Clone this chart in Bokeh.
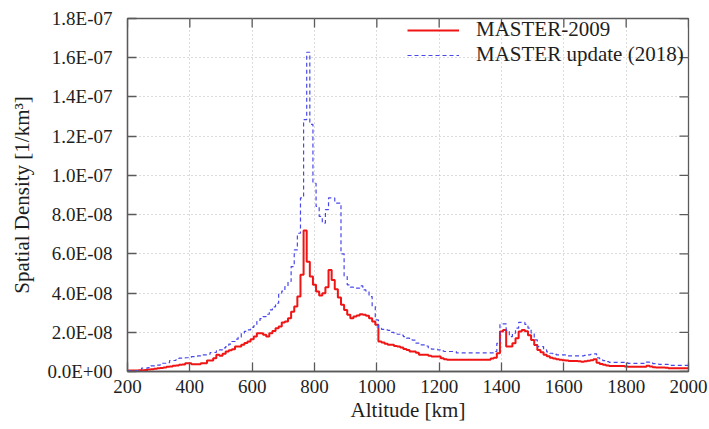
import numpy as np
from bokeh.plotting import figure
from bokeh.models import (FixedTicker, CustomJSTickFormatter,
                          Range1d, Legend, LegendItem)
from bokeh.embed import file_html
from bokeh.resources import INLINE

# Altitude bin centres [km], 10 km bins
altitude_km = np.arange(200, 2001, 10)

# Spatial density, in units of 1E-08 per km^3, one value per altitude bin
master_2009 = [
    0.05, 0.05, 0.05, 0.05, 0.06, 0.07, 0.08, 0.10, 0.12, 0.14,   # 200
    0.16, 0.18, 0.21, 0.24, 0.26, 0.29, 0.31, 0.34, 0.36, 0.42,   # 300
    0.42, 0.37, 0.37, 0.37, 0.42, 0.42, 0.56, 0.56, 0.68, 0.85,   # 400
    0.80, 0.90, 1.02, 1.08, 1.14, 1.27, 1.27, 1.36, 1.45, 1.53,   # 500
    1.65, 1.78, 1.95, 1.95, 1.87, 1.78, 1.95, 2.07, 2.21, 2.30,   # 600
    2.50, 2.55, 2.72, 3.05, 3.31, 3.82, 4.93, 7.19, 5.60, 4.84,   # 700
    4.42, 4.08, 3.87, 3.99, 4.30, 5.18, 4.67, 4.20, 3.77, 3.40,   # 800
    3.14, 2.89, 2.72, 2.80, 2.85, 2.92, 2.90, 2.84, 2.72, 2.55,   # 900
    2.38, 1.53, 1.48, 1.42, 1.36, 1.36, 1.30, 1.27, 1.22, 1.15,   # 1000
    1.10, 1.02, 1.02, 0.95, 0.85, 0.85, 0.85, 0.80, 0.76, 0.76,   # 1100
    0.76, 0.68, 0.62, 0.60, 0.60, 0.60, 0.60, 0.60, 0.60, 0.60,   # 1200
    0.60, 0.60, 0.60, 0.60, 0.60, 0.60, 0.60, 0.66, 0.70, 0.93,   # 1300
    2.04, 2.12, 1.27, 1.27, 1.44, 1.70, 2.04, 2.12, 2.05, 1.85,   # 1400
    1.60, 1.35, 1.10, 0.98, 0.85, 0.78, 0.70, 0.66, 0.62, 0.60,   # 1500
    0.58, 0.56, 0.54, 0.54, 0.54, 0.52, 0.50, 0.52, 0.55, 0.58,   # 1600
    0.62, 0.45, 0.38, 0.34, 0.31, 0.28, 0.28, 0.28, 0.28, 0.28,   # 1700
    0.26, 0.24, 0.24, 0.24, 0.24, 0.24, 0.24, 0.29, 0.26, 0.22,   # 1800
    0.21, 0.21, 0.20, 0.19, 0.17, 0.17, 0.17, 0.17, 0.17, 0.17,   # 1900
    0.17,                                                         # 2000
]

master_2018 = [
    0.05, 0.05, 0.05, 0.05, 0.08, 0.17, 0.17, 0.20, 0.29, 0.29,   # 200
    0.32, 0.42, 0.42, 0.45, 0.56, 0.56, 0.60, 0.68, 0.68, 0.70,   # 300
    0.72, 0.76, 0.76, 0.80, 0.85, 0.85, 0.88, 0.97, 0.97, 1.05,   # 400
    1.10, 1.20, 1.27, 1.40, 1.53, 1.65, 1.75, 1.95, 2.05, 2.12,   # 500
    2.25, 2.33, 2.55, 2.70, 2.80, 2.92, 3.14, 3.30, 3.48, 3.99,   # 600
    4.10, 4.33, 4.59, 5.35, 6.20, 7.05, 8.85, 12.84, 16.28, 12.60,  # 700
    9.60, 8.42, 7.91, 7.57, 8.25, 8.85, 8.85, 8.59, 8.59, 6.00,   # 800
    4.84, 4.42, 4.30, 4.25, 4.25, 4.37, 4.16, 4.10, 3.82, 3.31,   # 900
    2.63, 2.21, 2.15, 2.12, 2.10, 2.00, 1.95, 1.90, 1.85, 1.78,   # 1000
    1.70, 1.61, 1.60, 1.45, 1.36, 1.36, 1.30, 1.20, 1.14, 1.14,   # 1100
    1.10, 1.05, 1.02, 1.02, 1.02, 1.02, 0.95, 0.95, 0.95, 0.95,   # 1200
    0.95, 0.95, 0.95, 0.95, 0.95, 0.95, 0.95, 0.95, 1.02, 1.44,   # 1300
    2.43, 2.43, 2.10, 1.78, 1.95, 2.21, 2.51, 2.51, 2.40, 2.21,   # 1400
    1.95, 1.61, 1.27, 1.27, 1.10, 1.00, 0.93, 0.90, 0.85, 0.85,   # 1500
    0.85, 0.80, 0.80, 0.80, 0.80, 0.80, 0.80, 0.82, 0.85, 0.88,   # 1600
    0.90, 0.69, 0.60, 0.55, 0.50, 0.47, 0.47, 0.47, 0.47, 0.47,   # 1700
    0.47, 0.41, 0.41, 0.41, 0.41, 0.41, 0.41, 0.48, 0.45, 0.40,   # 1800
    0.38, 0.36, 0.36, 0.36, 0.31, 0.31, 0.31, 0.31, 0.31, 0.31,   # 1900
    0.31,                                                         # 2000
]

x_ticks = [200, 400, 600, 800, 1000, 1200, 1400, 1600, 1800, 2000]
y_ticks = [0.0, 2e-8, 4e-8, 6e-8, 8e-8, 1e-7, 1.2e-7, 1.4e-7, 1.6e-7, 1.8e-7]

UNIT = 1e-8
FONT = "Liberation Serif"
TEXT = "#1e1e1e"
FRAME = "#5a5a5a"
TICK_LEN = 9

x_lo, x_hi = x_ticks[0], x_ticks[-1]
y_lo, y_hi = y_ticks[0], y_ticks[-1]

p = figure(width=709, height=429, output_backend="svg", toolbar_location=None,
           x_range=Range1d(x_lo, x_hi), y_range=Range1d(y_lo, y_hi),
           min_border_left=127, min_border_right=21,
           min_border_top=18, min_border_bottom=58)

p.background_fill_color = "white"
p.border_fill_color = "white"
p.outline_line_color = FRAME
p.outline_line_width = 1.3

p.xaxis.ticker = FixedTicker(ticks=x_ticks)
p.yaxis.ticker = FixedTicker(ticks=y_ticks)

for ax in p.xaxis + p.yaxis:
    ax.axis_line_color = FRAME
    ax.axis_line_width = 1.3
    ax.major_tick_line_color = FRAME
    ax.major_tick_line_width = 1.3
    ax.major_tick_in = TICK_LEN
    ax.major_tick_out = 0
    ax.minor_tick_line_color = None
    ax.major_label_text_font = FONT
    ax.major_label_text_font_size = "19px"
    ax.major_label_text_color = TEXT
    ax.axis_label_text_font = FONT
    ax.axis_label_text_font_size = "21px"
    ax.axis_label_text_font_style = "normal"
    ax.axis_label_text_color = TEXT

p.xaxis.axis_label = "Altitude [km]"
p.xaxis.major_label_standoff = 8
p.xaxis.axis_label_standoff = 2

p.yaxis.axis_label = "Spatial Density [1/km³]"
p.yaxis.major_label_standoff = 15
p.yaxis.axis_label_standoff = 10
p.yaxis.formatter = CustomJSTickFormatter(code="""
    const s = tick.toExponential(1).toUpperCase();
    const parts = s.split("E");
    const sign = parts[1][0];
    const digits = parts[1].slice(1).padStart(2, "0");
    return parts[0] + "E" + sign + digits;
""")

for g in (p.xgrid, p.ygrid):
    g.grid_line_color = "#b8b8b8"
    g.grid_line_width = 1
    g.grid_line_dash = "1 3"

# mirrored inward ticks along the top and right edges of the frame
p.ray(x=x_ticks, y=[y_hi] * len(x_ticks), length=TICK_LEN, length_units="screen",
      angle=-np.pi / 2, line_color=FRAME, line_width=1.3)
p.ray(x=[x_hi] * len(y_ticks), y=y_ticks, length=TICK_LEN, length_units="screen",
      angle=np.pi, line_color=FRAME, line_width=1.3)

y2009 = np.array(master_2009) * UNIT
y2018 = np.array(master_2018) * UNIT

r2009 = p.step(x=altitude_km, y=y2009, mode="center",
               line_color="#f01414", line_width=2)
r2018 = p.step(x=altitude_km, y=y2018, mode="center",
               line_color="#4848ec", line_width=1.2, line_dash="4 3")

legend = Legend(items=[LegendItem(label="MASTER-2009", renderers=[r2009]),
                       LegendItem(label="MASTER update (2018)", renderers=[r2018])],
                location=(280, 304))
legend.border_line_color = None
legend.background_fill_alpha = 0
legend.padding = 0
legend.margin = 0
legend.spacing = 0
legend.glyph_width = 52
legend.glyph_height = 20
legend.label_height = 20
legend.label_standoff = 17
legend.label_text_font = FONT
legend.label_text_font_size = "21px"
legend.label_text_color = TEXT
p.add_layout(legend)

open("out.html", "w").write(file_html(p, INLINE))
